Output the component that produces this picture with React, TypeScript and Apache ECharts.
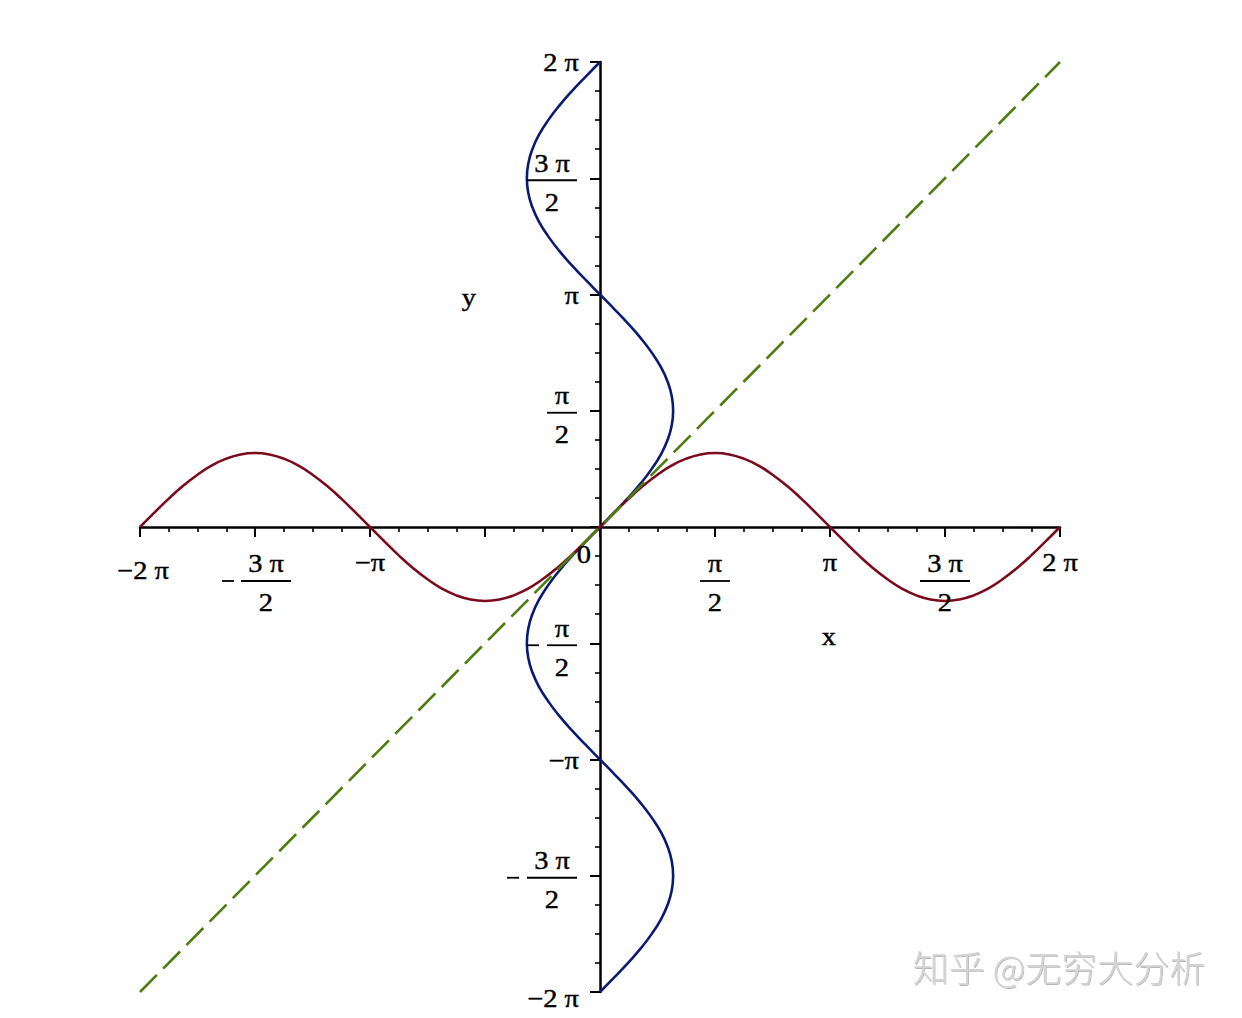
import React, { useEffect, useRef } from 'react';
import * as echarts from 'echarts';

// All values are in units of π (the axes run from −2π to 2π).
// Sample positions along the curve (x for the red curve, y for the blue one).
const samplePositions = [
  -2, -1.9375, -1.875, -1.8125, -1.75, -1.6875, -1.625, -1.5625,
  -1.5, -1.4375, -1.375, -1.3125, -1.25, -1.1875, -1.125, -1.0625,
  -1, -0.9375, -0.875, -0.8125, -0.75, -0.6875, -0.625, -0.5625,
  -0.5, -0.4375, -0.375, -0.3125, -0.25, -0.1875, -0.125, -0.0625,
  0, 0.0625, 0.125, 0.1875, 0.25, 0.3125, 0.375, 0.4375,
  0.5, 0.5625, 0.625, 0.6875, 0.75, 0.8125, 0.875, 0.9375,
  1, 1.0625, 1.125, 1.1875, 1.25, 1.3125, 1.375, 1.4375,
  1.5, 1.5625, 1.625, 1.6875, 1.75, 1.8125, 1.875, 1.9375, 2,
];

// Height of the red wave at each sample position.
const waveValues = [
  0, 0.062, 0.122, 0.177, 0.225, 0.265, 0.294, 0.312,
  0.318, 0.312, 0.294, 0.265, 0.225, 0.177, 0.122, 0.062,
  0, -0.062, -0.122, -0.177, -0.225, -0.265, -0.294, -0.312,
  -0.318, -0.312, -0.294, -0.265, -0.225, -0.177, -0.122, -0.062,
  0, 0.062, 0.122, 0.177, 0.225, 0.265, 0.294, 0.312,
  0.318, 0.312, 0.294, 0.265, 0.225, 0.177, 0.122, 0.062,
  0, -0.062, -0.122, -0.177, -0.225, -0.265, -0.294, -0.312,
  -0.318, -0.312, -0.294, -0.265, -0.225, -0.177, -0.122, -0.062, 0,
];
// The blue curve is the red wave mirrored in the line y = x:
// its x values are waveValues and its y values are samplePositions.

// Dashed diagonal end points.
const diagonalEnds = [-2, 2];

const axisMin = -2;
const axisMax = 2;
const axisInterval = 0.5;

// Tick labels.
const xTickLabels = [
  { at: -2, text: '−2 π', low: true },
  { at: -1.5, minus: true, num: '3 π', den: '2' },
  { at: -1, text: '−π' },
  { at: 0.5, num: 'π', den: '2' },
  { at: 1, text: 'π' },
  { at: 1.5, num: '3 π', den: '2' },
  { at: 2, text: '2 π' },
];
const yTickLabels = [
  { at: 2, text: '2 π' },
  { at: 1.5, num: '3 π', den: '2' },
  { at: 1, text: 'π' },
  { at: 0.5, num: 'π', den: '2' },
  { at: -0.5, minus: true, num: 'π', den: '2' },
  { at: -1, text: '−π' },
  { at: -1.5, minus: true, num: '3 π', den: '2' },
  { at: -2, text: '−2 π', low: true },
];
const originLabel = '0';
const xName = 'x';
const yName = 'y';
const watermark = '知乎 @无穷大分析';

const RED = '#7a0a1c';
const BLUE = '#0a1a70';
const GREEN = '#4d7c0f';
const FONT = '"Liberation Serif", "Times New Roman", serif';
const FS = 25;
const SX = 1.14;

function makeAxis() {
  return {
    type: 'value',
    min: axisMin,
    max: axisMax,
    interval: axisInterval,
    axisLine: { show: true, onZero: true, lineStyle: { color: '#000', width: 2.5 } },
    axisTick: { show: true, length: 10, lineStyle: { color: '#000', width: 2 } },
    minorTick: { show: true, splitNumber: 4, length: 5, lineStyle: { color: '#000', width: 1.6 } },
    axisLabel: { show: false },
    splitLine: { show: false },
    minorSplitLine: { show: false },
  };
}

function txt(x: number, y: number, s: string, align: string, extra: any = {}) {
  return {
    type: 'text',
    x,
    y,
    scaleX: extra.scaleX ?? SX,
    silent: true,
    z: 100,
    style: {
      text: s,
      fill: extra.fill ?? '#000',
      stroke: extra.stroke ?? '#000',
      lineWidth: extra.lineWidth ?? 0.4,
      fontFamily: extra.fontFamily ?? FONT,
      fontSize: extra.fontSize ?? FS,
      align,
      verticalAlign: 'middle',
      ...(extra.style || {}),
    },
  };
}

function hline(x1: number, x2: number, y: number, w = 1.8) {
  return {
    type: 'line',
    silent: true,
    z: 100,
    shape: { x1, y1: y, x2, y2: y },
    style: { stroke: '#000', lineWidth: w },
  };
}

export default function App() {
  const ref = useRef<HTMLDivElement>(null);

  useEffect(() => {
    if (!ref.current) return;
    const chart = echarts.init(ref.current, null, { renderer: 'svg' });

    const redData = samplePositions.map((x, i) => [x, waveValues[i]]);
    const blueData = samplePositions.map((y, i) => [waveValues[i], y]);
    const greenData = diagonalEnds.map((v) => [v, v]);

    chart.setOption({
      animation: false,
      backgroundColor: '#ffffff',
      grid: { left: 140, right: 182, top: 62, bottom: 26, containLabel: false, outerBoundsMode: 'none' },
      xAxis: makeAxis(),
      yAxis: makeAxis(),
      series: [
        {
          type: 'line',
          data: blueData,
          showSymbol: false,
          symbol: 'none',
          smooth: true,
          lineStyle: { color: BLUE, width: 2.6 },
          z: 3,
        },
        {
          type: 'line',
          data: redData,
          showSymbol: false,
          symbol: 'none',
          smooth: true,
          lineStyle: { color: RED, width: 2.6 },
          z: 4,
        },
        {
          type: 'line',
          data: greenData,
          showSymbol: false,
          symbol: 'none',
          lineStyle: { color: GREEN, width: 2.6, type: [24, 9] },
          z: 5,
        },
      ],
    });

    const toPx = (x: number, y: number) => chart.convertToPixel({ gridIndex: 0 }, [x, y]) as number[];
    const [px0, py0] = toPx(0, 0);
    const els: any[] = [];

    // x-axis labels
    xTickLabels.forEach((l: any) => {
      const [px] = toPx(l.at, 0);
      if (l.text) {
        const baseline = py0 + (l.low ? 52 : 44);
        els.push(txt(px + (l.low ? 3 : 0), baseline - 8, l.text, 'center'));
      } else {
        const w = l.num.length > 1 ? 50 : 30;
        const cx = px + (l.minus ? 11 : 0);
        const by = py0 + 54;
        els.push(hline(cx - w / 2, cx + w / 2, by));
        els.push(txt(cx, by - 17, l.num, 'center'));
        els.push(txt(cx, by + 22, l.den, 'center'));
        if (l.minus) els.push(hline(cx - w / 2 - 19, cx - w / 2 - 7, by, 1.8));
      }
    });

    // y-axis labels
    const right = px0 - 21;
    yTickLabels.forEach((l: any) => {
      const [, py] = toPx(0, l.at);
      if (l.text) {
        els.push(txt(right, py + (l.low ? 7 : 1), l.text, 'right'));
      } else {
        const w = l.num.length > 1 ? 50 : 30;
        const br = right - 2;
        const bl = br - w;
        const cx = (bl + br) / 2;
        const by = py + 2;
        els.push(hline(bl, br, by));
        els.push(txt(cx, by - 17, l.num, 'center'));
        els.push(txt(cx, by + 22, l.den, 'center'));
        if (l.minus) els.push(hline(bl - 20, bl - 8, by, 1.8));
      }
    });

    // origin label
    els.push(txt(px0 - 16, py0 + 28, originLabel, 'center'));

    // axis names
    const [pxName] = toPx(1, 0);
    els.push(txt(pxName - 1, py0 + 110, xName, 'center'));
    const [, pyName] = toPx(0, 1);
    els.push(txt(px0 - 131, pyName + 3, yName, 'center'));

    // watermark
    els.push(
      txt(1059, 966, watermark, 'center', {
        scaleX: 1,
        fontSize: 36,
        fontFamily: '"Noto Sans CJK SC", sans-serif',
        fill: '#d2d2d2',
        stroke: 'none',
        lineWidth: 0,
        style: { fontWeight: 300, textShadowColor: 'rgba(0,0,0,0.28)', textShadowOffsetX: 1, textShadowOffsetY: 1, textShadowBlur: 1 },
      })
    );

    chart.setOption({ graphic: { elements: els } });

    return () => chart.dispose();
  }, []);

  return (
    <div
      ref={ref}
      style={{ position: 'absolute', left: 0, top: 0, width: 1242, height: 1018, background: '#fff' }}
    />
  );
}
